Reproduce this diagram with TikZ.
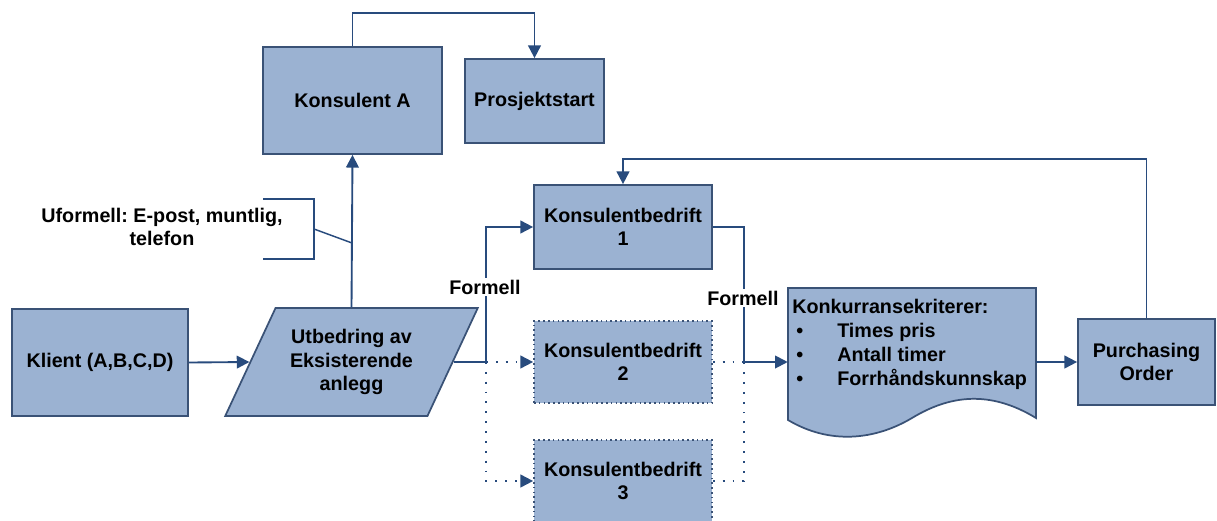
\documentclass[tikz,border=0pt]{standalone}
\usepackage{fontspec}
\setmainfont{Liberation Sans}
\usetikzlibrary{shapes.geometric,arrows.meta}

\definecolor{boxfill}{RGB}{155,178,210}
\definecolor{boxline}{RGB}{58,82,118}
\definecolor{wire}{RGB}{40,75,125}

\begin{document}
\frenchspacing
\begin{tikzpicture}[x=0.75pt,y=-0.75pt,
  every node/.style={font=\fontsize{14.8}{17.5}\selectfont\bfseries, text=black},
  box/.style={draw=boxline, fill=boxfill, line width=1.3pt, align=center, inner sep=2pt},
  dotbox/.style={box, dash pattern=on 1.2pt off 2.4pt},
  wirestyle/.style={draw=wire, line width=1.4pt},
  link/.style={wirestyle, -{Triangle[length=9.5pt,width=9.5pt]}},
  dotwire/.style={wirestyle, dash pattern=on 1.4pt off 6pt},
  dotlink/.style={link, dash pattern=on 1.4pt off 6pt},
  tag/.style={fill=white, inner sep=1pt}
]
\useasboundingbox (0,0) rectangle (1217,521);

% boxes
\node[box, minimum width=134.25pt, minimum height=80.25pt] (ka) at (352.5,100.5) {Konsulent A};
\node[box, minimum width=104.25pt, minimum height=63pt] (ps) at (534.5,101) {Prosjektstart};
\node[box, minimum width=132pt, minimum height=80.25pt] (kl) at (100,362.5) {Klient (A,B,C,D)};
\node[box, trapezium, trapezium left angle=58, trapezium right angle=122, trapezium stretches=true,
      minimum width=189.75pt, minimum height=81pt, inner sep=0pt] (ut) at (351.5,362)
      {Utbedring av\\Eksisterende\\anlegg};
\node[box, minimum width=133.5pt, minimum height=63pt] (kb1) at (623,227) {Konsulentbedrift\\1};
\node[dotbox, minimum width=133.5pt, minimum height=61.5pt] (kb2) at (623,362) {Konsulentbedrift\\2};
\node[dotbox, minimum width=133.5pt, minimum height=61.5pt] (kb3) at (623,481) {Konsulentbedrift\\3};
\node[box, minimum width=102.75pt, minimum height=64.5pt] (po) at (1146.5,362) {Purchasing\\Order};

% document shape with wavy bottom
\draw[draw=boxline, fill=boxfill, line width=1.3pt]
  (788,288) -- (1036,288) -- (1036,418)
  .. controls (990,390) and (950,395) .. (912,418)
  .. controls (875,440) and (830,445) .. (788,420) -- cycle;
\node[inner sep=0pt, minimum width=186pt, minimum height=111pt] (doc) at (912,362) {};
\node[anchor=north west, inner sep=0pt, align=left, font=\fontsize{14.8}{18}\selectfont\bfseries] (crit) at (792,299)
  {Konkurransekriterer:\\
   \makebox[33.75pt][l]{\hspace{3pt}\textbullet}Times pris\\
   \makebox[33.75pt][l]{\hspace{3pt}\textbullet}Antall timer\\
   \makebox[33.75pt][l]{\hspace{3pt}\textbullet}Forrhåndskunnskap};

% junction points
\coordinate (j1) at (486,362);
\coordinate (j2) at (744,362);
\coordinate (top) at (443,13);
\coordinate (fb) at (900,159);
\coordinate (br) at (352,243);

% connectors
\draw[link] (kl.east) -- (ut.left side);
\draw[link] (ut.north) -- (ka.south);
\draw[link] (ka.north) |- (top) -| (ps.north);
\draw[wirestyle] (ut.right side) -- (j1);
\draw[link] (j1) |- (kb1.west);
\draw[dotlink] (j1) -- (kb2.west);
\draw[dotlink] (j1) |- (kb3.west);
\draw[wirestyle] (kb1.east) -| (j2);
\draw[dotwire] (kb2.east) -- (j2);
\draw[dotwire] (kb3.east) -| (j2);
\draw[link] (j2) -- (doc.west);
\draw[link] (doc.east) -- (po.west);
\draw[link] (po.north) |- (fb) -| (kb1.north);

% informal-channel callout
\draw[draw=wire, line width=1.1pt] (263,199) -- (314,199) -- (314,259) -- (263,259);
\draw[draw=wire, line width=1.1pt] (314,229) -- (br);
\node[align=center] (uf) at (162,227) {Uformell: E-post, muntlig,\\telefon};

% labels
\node[tag] (f1) at (485,287) {Formell};
\node[tag] (f2) at (743,298) {Formell};
\end{tikzpicture}
\end{document}
